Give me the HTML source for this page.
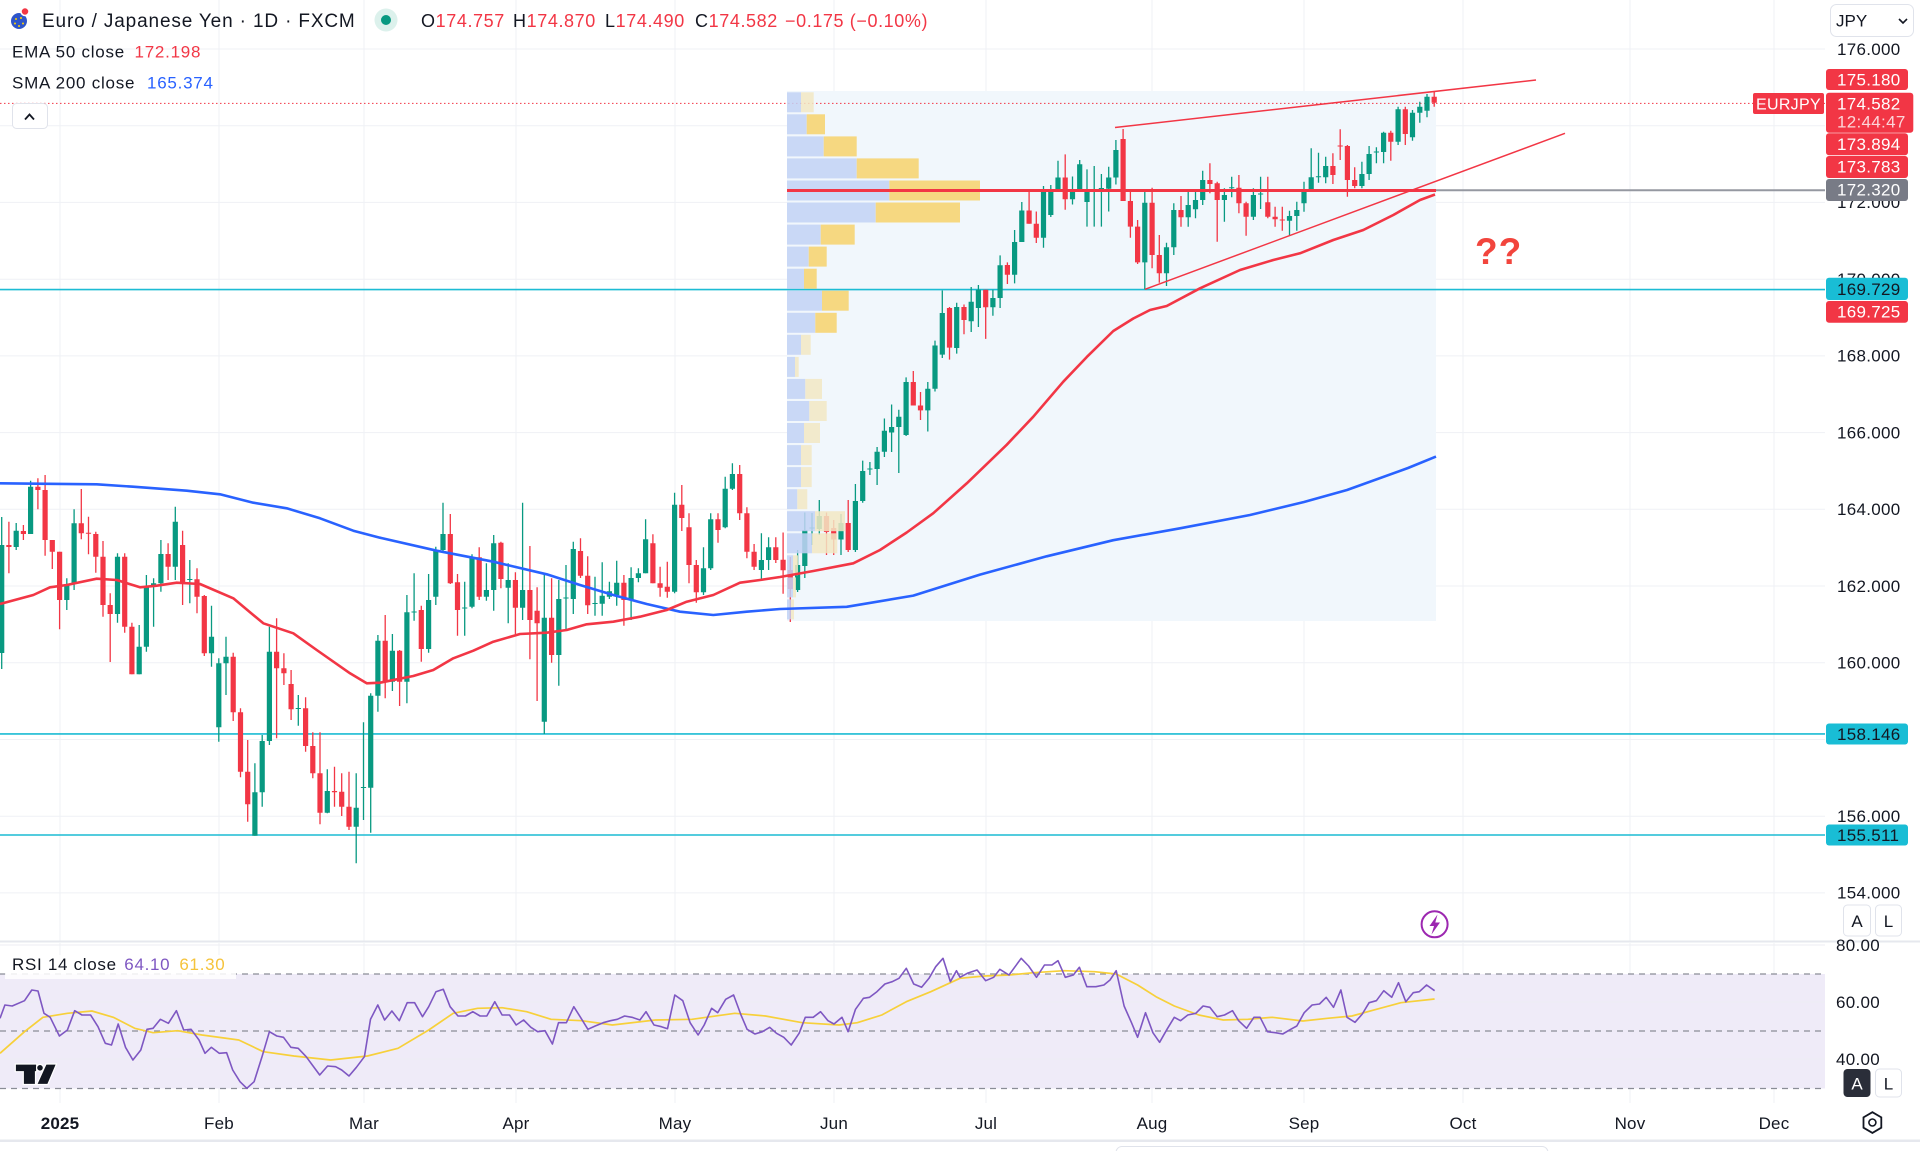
<!DOCTYPE html>
<html><head><meta charset="utf-8"><title>EURJPY 1D chart</title>
<style>
html,body{margin:0;padding:0;background:#fff;}
svg{display:block;}
</style></head>
<body>
<svg width="1920" height="1151" viewBox="0 0 1920 1151" xmlns="http://www.w3.org/2000/svg" font-family="'Liberation Sans', Arial, sans-serif">
<rect x="0" y="0" width="1920" height="1151" fill="#ffffff"/>

<!-- grid -->
<g stroke="#eff1f5" stroke-width="1">
<path d="M0 49H1825M0 125.7H1825M0 202.4H1825M0 279.2H1825M0 355.9H1825M0 432.6H1825M0 509.3H1825M0 586H1825M0 662.8H1825M0 739.5H1825M0 816.2H1825M0 892.9H1825"/>
<path d="M60 0V941M219 0V941M364 0V941M516 0V941M675 0V941M834 0V941M986 0V941M1152 0V941M1304 0V941M1463 0V941M1630 0V941M1774 0V941"/>
<path d="M60 943V1103M219 943V1103M364 943V1103M516 943V1103M675 943V1103M834 943V1103M986 943V1103M1152 943V1103M1304 943V1103M1463 943V1103M1630 943V1103M1774 943V1103"/>
</g>

<!-- volume profile background -->
<rect x="787" y="91" width="649" height="530" fill="#f1f7fc"/>

<!-- cyan horizontal levels -->
<g stroke="#1cbcd4" stroke-width="1.6">
<path d="M0 289.6H1825M0 733.9H1825M0 835H1825"/>
</g>

<!-- current price dotted line -->
<path d="M0 103.4H1825" stroke="#f23645" stroke-width="1" stroke-dasharray="1.5 2.5"/>

<!-- candles green -->
<g stroke="#089981" stroke-width="1.3" fill="none">
<path d="M1.7 517V669M16.2 523V550M30.6 480.7V534M66.8 578.3V610M74.1 509.3V590M117.5 553.3V622.7M139.2 625V674.3M146.4 575V651.7M153.6 578.3V626.7M160.9 540V591.7M175.3 506.7V580M189.8 560V603.3M211.5 605.7V666.7M218.8 658.3V741.7M226 636.7V695M254.9 763.3V835.7M262.2 735V806.7M269.4 626.7V745M298.3 695V725.7M327.3 769.3V813.3M356.2 773.3V863.3M363.5 722.3V820M370.7 693.3V832.7M377.9 635V711.7M392.4 634V691M406.9 595V703.3M414.1 573.3V620.7M428.6 574V652.7M435.8 546.7V605M443 502.7V553M464.7 581.7V635.7M472 554.3V608.3M486.4 563.3V600.7M493.7 535V610.7M508.2 563.3V623.3M522.6 502.7V620M544.3 573.3V734M558.8 580V685.7M566 565V629M573.3 541.7V614M595 576.7V615.7M602.2 562.3V615.7M609.4 581.7V599M616.7 560.7V605.7M631.1 567.3V620M638.4 568.3V582.3M645.6 519.3V573.3M674.6 492.7V593.3M703.5 547.3V595M710.7 513.3V570M725.2 476.7V528.3M732.4 463.3V490M761.4 533.3V580.7M768.6 537.3V570M797.6 550V592M804.8 512.5V578M812 513V545M819.3 500V535M841 514V555M855.4 484V552M862.7 460.6V502.7M869.9 462V475M877.1 447V485M884.4 418.5V457M891.6 404.5V452M898.8 409.7V473M906.1 377.4V436M927.8 382V431.5M935 340.6V391.5M942.3 290.5V358M956.7 302.7V353.6M971.2 287V332M978.4 285V327M992.9 289.8V315.7M1000.1 255.4V308M1014.6 230V283.4M1021.8 202V242M1043.5 186V247.7M1050.8 185V217M1058 160.7V191.5M1072.5 176.5V204.5M1079.7 160V192M1087 169.4V226.6M1094.2 166V226.6M1101.4 174V226.6M1108.7 166.7V211.5M1115.9 140V184.5M1144.8 190V289.3M1166.5 242.7V286M1173.8 203.3V255M1188.2 190V226.7M1195.5 190V218.3M1202.7 170.7V205M1224.4 188.3V221.7M1231.7 176.7V197.3M1253.4 188.3V220M1260.6 176.7V209M1289.5 210.7V235.7M1296.8 201.7V230.7M1304 181.7V211.7M1311.2 148.3V190.7M1318.5 152.7V182.7M1325.7 156.7V183.3M1361.9 161.7V188.3M1369.1 146V180M1376.4 147.3V163.3M1383.6 131.7V163.3M1398.1 106.7V145M1412.5 110V140.7M1419.8 101.7V122.7M1427 94V117.3"/>
</g>
<path fill="#089981" d="M-0.9 545h5.2V653h-5.2zM13.6 530.7h5.2V547h-5.2zM28 486.7h5.2V534h-5.2zM64.2 584h5.2V600h-5.2zM71.5 523.3h5.2V584h-5.2zM114.9 556.7h5.2V614h-5.2zM136.6 646.7h5.2V674.3h-5.2zM143.8 586.7h5.2V646.7h-5.2zM151 583.3h5.2V586.7h-5.2zM158.3 554h5.2V583.3h-5.2zM172.7 521.7h5.2V566.7h-5.2zM187.2 579h5.2V580h-5.2zM208.9 636.7h5.2V653.3h-5.2zM216.2 663.3h5.2V727.3h-5.2zM223.4 656.7h5.2V663.3h-5.2zM252.3 792.3h5.2V835.7h-5.2zM259.6 741h5.2V792.3h-5.2zM266.8 651.7h5.2V741h-5.2zM295.7 708h5.2V709h-5.2zM324.7 791h5.2V812.7h-5.2zM353.6 807.7h5.2V826.7h-5.2zM360.9 787h5.2V788h-5.2zM368.1 695.7h5.2V787.7h-5.2zM375.3 640.7h5.2V695.7h-5.2zM389.8 650.7h5.2V681.7h-5.2zM404.3 612.3h5.2V681.7h-5.2zM411.5 611.5h5.2V612.5h-5.2zM426 600h5.2V649h-5.2zM433.2 550h5.2V596.7h-5.2zM440.4 534h5.2V550h-5.2zM462.1 607.5h5.2V608.5h-5.2zM469.4 557.3h5.2V606.7h-5.2zM483.8 590h5.2V596.7h-5.2zM491.1 543.3h5.2V590h-5.2zM505.6 580h5.2V587.7h-5.2zM520 590h5.2V607.7h-5.2zM541.7 617.7h5.2V721.7h-5.2zM556.2 599h5.2V655h-5.2zM563.4 597.5h5.2V598.5h-5.2zM570.7 549h5.2V599h-5.2zM592.4 603h5.2V604h-5.2zM599.6 595.7h5.2V603.7h-5.2zM606.8 591.3h5.2V596.7h-5.2zM614.1 582.7h5.2V595h-5.2zM628.5 578h5.2V600h-5.2zM635.8 573.3h5.2V578h-5.2zM643 539.3h5.2V573.3h-5.2zM672 504.7h5.2V591.7h-5.2zM700.9 568.3h5.2V592.3h-5.2zM708.1 519.3h5.2V568.3h-5.2zM722.6 488.7h5.2V527.3h-5.2zM729.8 474h5.2V488.7h-5.2zM758.8 560h5.2V570h-5.2zM766 547.3h5.2V560h-5.2zM795 565h5.2V590h-5.2zM802.2 530h5.2V566h-5.2zM809.4 527.5h5.2V528.5h-5.2zM816.7 516h5.2V529h-5.2zM838.4 523h5.2V539.5h-5.2zM852.8 501h5.2V550h-5.2zM860.1 471h5.2V501h-5.2zM867.3 468.5h5.2V469.5h-5.2zM874.5 451.8h5.2V469h-5.2zM881.8 430.7h5.2V451.8h-5.2zM889 427h5.2V432.5h-5.2zM896.2 416.7h5.2V427h-5.2zM903.5 382h5.2V435h-5.2zM925.2 388.7h5.2V410.4h-5.2zM932.4 345.5h5.2V388.7h-5.2zM939.7 313h5.2V354.6h-5.2zM954.1 307h5.2V348h-5.2zM968.6 301.7h5.2V321.3h-5.2zM975.8 289.8h5.2V308h-5.2zM990.3 298h5.2V307.3h-5.2zM997.5 265.2h5.2V298h-5.2zM1012 242h5.2V274.7h-5.2zM1019.2 210.5h5.2V242h-5.2zM1040.9 191.5h5.2V237.8h-5.2zM1048.2 191.5h5.2V215h-5.2zM1055.4 177.5h5.2V190.5h-5.2zM1069.9 191.5h5.2V199.3h-5.2zM1077.1 164.2h5.2V191.5h-5.2zM1084.4 191.5h5.2V202h-5.2zM1091.6 190.5h5.2V191.5h-5.2zM1098.8 188h5.2V189h-5.2zM1106.1 177.5h5.2V188.7h-5.2zM1113.3 150h5.2V177.5h-5.2zM1142.2 202.8h5.2V262.4h-5.2zM1163.9 247.3h5.2V273.3h-5.2zM1171.2 210h5.2V247.3h-5.2zM1185.6 205h5.2V217.3h-5.2zM1192.9 200h5.2V209.3h-5.2zM1200.1 180h5.2V200h-5.2zM1221.8 195h5.2V200h-5.2zM1229.1 187.2h5.2V188.2h-5.2zM1250.8 195h5.2V216.7h-5.2zM1258 193.5h5.2V194.5h-5.2zM1286.9 216h5.2V220.7h-5.2zM1294.2 210h5.2V216h-5.2zM1301.4 189.3h5.2V203.3h-5.2zM1308.6 177.3h5.2V190h-5.2zM1315.9 176.2h5.2V177.2h-5.2zM1323.1 166h5.2V177.3h-5.2zM1359.3 174h5.2V186h-5.2zM1366.5 154h5.2V174h-5.2zM1373.8 151.5h5.2V152.5h-5.2zM1381 132.7h5.2V152h-5.2zM1395.5 109.3h5.2V141.7h-5.2zM1409.9 112.7h5.2V137.3h-5.2zM1417.2 106.7h5.2V112.7h-5.2zM1424.4 96.7h5.2V110.7h-5.2z"/>

<!-- candles red -->
<g stroke="#f23645" stroke-width="1.3" fill="none">
<path d="M8.9 521.7V573.3M23.4 525V540M37.9 478.3V509.3M45.1 475V555.7M52.3 540V569M59.6 551.7V629.3M81.3 489V539.3M88.5 516.7V554.3M95.8 531.7V572.7M103 541V616.7M110.2 593.3V662M124.7 553.3V632.7M131.9 622.7V674.3M168.1 543.3V580M182.6 530.7V605M197 568.3V613.3M204.3 595V656M233.2 652.7V721M240.5 708.3V777.3M247.7 740V821.7M276.6 618.3V738.3M283.9 653.3V685M291.1 670V720M305.6 697.3V751.7M312.8 732.3V778.3M320 732.3V824.3M334.5 766.7V806.7M341.7 773.3V816M349 771.7V830M385.2 615V698.3M399.6 650V706M421.3 605.7V661.7M450.3 514V584M457.5 574V635.7M479.2 547.3V600M500.9 541.7V588.3M515.4 572.3V634M529.9 546V659.3M537.1 587.3V701M551.6 578.3V662.7M580.5 538.3V578M587.7 556.3V614M623.9 575V625.7M652.9 534.3V583.3M660.1 566.7V596.7M667.3 561.7V597.7M681.8 485V531M689 513.3V583.3M696.3 560V602.7M718 513.3V542.7M739.7 465V520M746.9 507.3V558.3M754.1 544V570M775.8 537.3V563M783.1 532.5V593.8M790.3 557V622M826.5 512.5V555M833.7 520V555M848.2 500V552M913.3 371V405.5M920.5 392V420M949.5 307V359.6M964 304.5V334.3M985.7 289.8V338.9M1007.4 262.4V284M1029.1 191.5V223.8M1036.3 211.5V243M1065.2 154.4V209.8M1123.1 129V201M1130.4 191.5V237.8M1137.6 220V264M1152.1 187.7V268.3M1159.3 235V282.7M1181 196V226.7M1209.9 163.3V193.3M1217.2 181.7V241.7M1238.9 175V213.3M1246.1 201.7V235.7M1267.8 176.7V218.3M1275.1 206.7V226.7M1282.3 206.7V230.7M1332.9 153.3V184M1340.2 129.3V160M1347.4 145V196.7M1354.7 167.3V188.3M1390.8 130.7V160.7M1405.3 106.7V145M1434.2 91.7V106.7"/>
</g>
<path fill="#f23645" d="M6.3 545h5.2V547h-5.2zM20.8 531h5.2V534h-5.2zM35.3 486.7h5.2V490h-5.2zM42.5 490h5.2V540h-5.2zM49.7 540h5.2V551.7h-5.2zM57 551.7h5.2V600h-5.2zM78.7 523.3h5.2V533.3h-5.2zM85.9 532.7h5.2V533.7h-5.2zM93.2 534h5.2V556.7h-5.2zM100.4 556.7h5.2V605h-5.2zM107.6 605h5.2V614h-5.2zM122.1 556.7h5.2V626.7h-5.2zM129.3 626.7h5.2V674.3h-5.2zM165.5 554h5.2V566.7h-5.2zM180 545h5.2V583.3h-5.2zM194.4 579.3h5.2V596.7h-5.2zM201.7 596h5.2V653.3h-5.2zM230.6 656.7h5.2V712.3h-5.2zM237.9 712.3h5.2V771.7h-5.2zM245.1 771.7h5.2V804.3h-5.2zM274 651.7h5.2V668.3h-5.2zM281.3 668.3h5.2V673.3h-5.2zM288.5 684h5.2V709.3h-5.2zM303 708.3h5.2V746h-5.2zM310.2 746h5.2V773.3h-5.2zM317.4 773.3h5.2V812.7h-5.2zM331.9 791h5.2V792.3h-5.2zM339.1 791.7h5.2V806.7h-5.2zM346.4 806.7h5.2V826.7h-5.2zM382.6 640.7h5.2V681.7h-5.2zM397 650.7h5.2V681.7h-5.2zM418.7 610h5.2V649h-5.2zM447.7 534h5.2V583.3h-5.2zM454.9 582.3h5.2V610h-5.2zM476.6 557.3h5.2V596.7h-5.2zM498.3 542.7h5.2V579h-5.2zM512.8 580h5.2V607.7h-5.2zM527.3 590h5.2V620h-5.2zM534.5 610.7h5.2V623.3h-5.2zM549 617.7h5.2V655h-5.2zM577.9 551h5.2V575.7h-5.2zM585.1 575.7h5.2V605.3h-5.2zM621.3 582.7h5.2V600h-5.2zM650.3 543.3h5.2V583.3h-5.2zM657.5 583.3h5.2V587.7h-5.2zM664.7 586.7h5.2V591.7h-5.2zM679.2 504.7h5.2V518h-5.2zM686.4 527.3h5.2V565h-5.2zM693.7 565h5.2V592.3h-5.2zM715.4 519.3h5.2V530h-5.2zM737.1 474h5.2V513.3h-5.2zM744.3 513.3h5.2V551.7h-5.2zM751.5 551.7h5.2V566.7h-5.2zM773.2 547.3h5.2V560h-5.2zM780.5 559.8h5.2V570.3h-5.2zM787.7 570h5.2V589h-5.2zM823.9 516h5.2V532h-5.2zM831.1 528h5.2V539.5h-5.2zM845.6 523h5.2V550h-5.2zM910.7 382h5.2V405.5h-5.2zM917.9 405.5h5.2V410.4h-5.2zM946.9 308h5.2V347.6h-5.2zM961.4 307h5.2V320h-5.2zM983.1 289.8h5.2V307.3h-5.2zM1004.8 265h5.2V274.7h-5.2zM1026.5 210.5h5.2V223.8h-5.2zM1033.7 223.8h5.2V237.8h-5.2zM1062.6 177.5h5.2V199.3h-5.2zM1120.5 139h5.2V201h-5.2zM1127.8 201h5.2V226.6h-5.2zM1135 226.6h5.2V262.4h-5.2zM1149.5 202.8h5.2V255h-5.2zM1156.7 255h5.2V273.3h-5.2zM1178.4 210h5.2V217.3h-5.2zM1207.3 180h5.2V184h-5.2zM1214.6 183.3h5.2V200h-5.2zM1236.3 187.7h5.2V203.3h-5.2zM1243.5 203.3h5.2V216.7h-5.2zM1265.2 202.3h5.2V216.7h-5.2zM1272.5 216.7h5.2V219.3h-5.2zM1279.7 219.5h5.2V220.5h-5.2zM1330.3 166h5.2V175h-5.2zM1337.6 145.5h5.2V146.5h-5.2zM1344.8 146h5.2V180h-5.2zM1352.1 180h5.2V186h-5.2zM1388.2 132.7h5.2V141.7h-5.2zM1402.7 109.3h5.2V134h-5.2zM1431.6 96.7h5.2V102.7h-5.2z"/>

<!-- volume profile bars -->
<g opacity="0.85">
<g fill="#c3d3f6">
<rect x="787" y="92.3" width="14" height="20"/>
<rect x="787" y="114.3" width="19.7" height="20"/>
<rect x="787" y="136.4" width="36.7" height="20"/>
<rect x="787" y="158.4" width="69.7" height="20"/>
<rect x="787" y="180.5" width="102.3" height="20"/>
<rect x="787" y="202.5" width="88.7" height="20"/>
<rect x="787" y="224.6" width="33.7" height="20"/>
<rect x="787" y="246.6" width="21.7" height="20"/>
<rect x="787" y="268.7" width="17" height="20"/>
<rect x="787" y="290.7" width="35" height="20"/>
<rect x="787" y="312.8" width="28.3" height="20"/>
<rect x="787" y="334.8" width="14" height="20"/>
<rect x="787" y="356.9" width="8" height="20"/>
<rect x="787" y="378.9" width="18.3" height="20"/>
<rect x="787" y="401" width="22.3" height="20"/>
<rect x="787" y="423" width="17" height="20"/>
<rect x="787" y="445.1" width="14" height="20"/>
<rect x="787" y="467.1" width="14" height="20"/>
<rect x="787" y="489.2" width="10.3" height="20"/>
<rect x="787" y="511.2" width="28" height="20"/>
<rect x="787" y="533.3" width="25" height="20"/>
<rect x="787" y="555.3" width="6" height="20"/>
<rect x="787" y="577.4" width="6" height="20"/>
<rect x="787" y="599.4" width="4" height="20"/>
</g>
<g fill="#f8d36c">
<rect x="806.7" y="114.3" width="18.3" height="20"/>
<rect x="823.7" y="136.4" width="33" height="20"/>
<rect x="856.7" y="158.4" width="62" height="20"/>
<rect x="889.3" y="180.5" width="90.7" height="20"/>
<rect x="875.7" y="202.5" width="84.3" height="20"/>
<rect x="820.7" y="224.6" width="34" height="20"/>
<rect x="808.7" y="246.6" width="18" height="20"/>
<rect x="804" y="268.7" width="12.7" height="20"/>
<rect x="822" y="290.7" width="26.7" height="20"/>
<rect x="815.3" y="312.8" width="21.4" height="20"/>
</g>
<g fill="#f3e8c4">
<rect x="801" y="92.3" width="12.7" height="20"/>
<rect x="801" y="334.8" width="9.7" height="20"/>
<rect x="795" y="356.9" width="3.7" height="20"/>
<rect x="805.3" y="378.9" width="16.7" height="20"/>
<rect x="809.3" y="401" width="17.4" height="20"/>
<rect x="804" y="423" width="16" height="20"/>
<rect x="801" y="445.1" width="10.7" height="20"/>
<rect x="801" y="467.1" width="10.7" height="20"/>
<rect x="797.3" y="489.2" width="10" height="20"/>
<rect x="815" y="511.2" width="30" height="20"/>
<rect x="812" y="533.3" width="25.3" height="20"/>
<rect x="793" y="555.3" width="5" height="20"/>
<rect x="793" y="577.4" width="3" height="20"/>
<rect x="791" y="599.4" width="3" height="20"/>
</g>
</g>

<!-- POC red line and level grey line -->
<path d="M787 190.5H1436" stroke="#f23645" stroke-width="3"/>
<path d="M1436 190.3H1825" stroke="#9598a1" stroke-width="2"/>

<!-- SMA 200 -->
<polyline fill="none" stroke="#2962ff" stroke-width="2.6" stroke-linejoin="round" points="0,483.3 96.7,484.3 133,486.7 186.7,490.7 220,494.3 253.3,502.7 286.7,508.3 320,518.3 353.3,530.7 380,537.7 436.7,550.7 493.3,561.7 546.7,574.3 580,585 613.3,595 646.7,604 680,611.7 713.3,615 746.7,611.7 780,609 846.7,606.8 913.3,595.6 980,574.6 1046.7,556.3 1113.3,540.2 1180,528.3 1250,515 1304,502 1347,490 1408,468 1436,456.6"/>
<!-- EMA 50 -->
<polyline fill="none" stroke="#f23645" stroke-width="2.6" stroke-linejoin="round" points="0,604 33.3,595 50,587.3 66.7,585 96.7,578.7 116.7,580 140,587.3 156.7,585.7 176.7,582.7 200,584 233.3,598.3 263.3,623.3 293.3,633.3 316.7,650 350,673.3 366.7,683.3 380,682.7 413.3,676 433.3,670 453.3,658.3 473.3,650.7 493.3,641.7 520,634 546.7,632.7 566.7,630 586.7,624.3 613.3,621.7 640,616.7 666.7,610 686.7,601.7 713.3,595 740,582.7 760,580 780,577 813.3,571 853.3,563.3 880,550 906.7,532.5 933.3,513.2 966.7,483.4 1006.7,444.8 1033.3,416.7 1063.3,381.7 1086.7,357.1 1113.3,331 1133.3,318.5 1150,310 1166.7,306 1200,288.3 1240,270 1273.3,260 1300,253.3 1333.3,240 1363.3,230 1393.3,215 1420,200 1435,194.5"/>

<!-- trendlines -->
<path d="M1115 127.5L1536 80" stroke="#f23645" stroke-width="1.5"/>
<path d="M1145 289.3L1565 133.3" stroke="#f23645" stroke-width="1.5"/>

<!-- ?? -->
<text x="1475" y="264" font-size="37" font-weight="bold" fill="#f2453d" letter-spacing="1">??</text>

<!-- Legend top -->
<circle cx="19" cy="21" r="8" fill="#2e55c9"/>
<circle cx="16" cy="19" r="1" fill="#ffd200"/><circle cx="21" cy="18" r="1" fill="#ffd200"/><circle cx="15" cy="23.5" r="1" fill="#ffd200"/><circle cx="19" cy="26" r="1" fill="#ffd200"/><circle cx="23" cy="23.5" r="1" fill="#ffd200"/>
<circle cx="25" cy="11.5" r="4" fill="#f23645" stroke="#ffffff" stroke-width="1.5"/>
<text x="42" y="27" font-size="19" letter-spacing="0.85" fill="#131722">Euro / Japanese Yen · 1D · FXCM</text>
<circle cx="386" cy="20" r="11.5" fill="#dcf1ec"/>
<circle cx="386" cy="20" r="5" fill="#089981"/>
<g font-size="18" letter-spacing="0.6">
<text x="421" y="27"><tspan fill="#131722">O</tspan><tspan fill="#f23645">174.757</tspan></text>
<text x="513" y="27"><tspan fill="#131722">H</tspan><tspan fill="#f23645">174.870</tspan></text>
<text x="605" y="27"><tspan fill="#131722">L</tspan><tspan fill="#f23645">174.490</tspan></text>
<text x="695" y="27"><tspan fill="#131722">C</tspan><tspan fill="#f23645">174.582</tspan></text>
<text x="785" y="27" fill="#f23645">−0.175 (−0.10%)</text>
</g>
<g font-size="17" letter-spacing="0.75">
<text x="12" y="57.5" fill="#131722">EMA 50 close</text>
<text x="134.5" y="57.5" fill="#f23645">172.198</text>
<text x="12" y="88.5" fill="#131722">SMA 200 close</text>
<text x="147" y="88.5" fill="#2962ff">165.374</text>
</g>
<rect x="12.5" y="103.5" width="35" height="25" rx="4" fill="#ffffff" stroke="#e0e3eb"/>
<path d="M25 119.5L29.5 114.5L34 119.5" fill="none" stroke="#131722" stroke-width="1.8"/>

<!-- EURJPY label -->
<rect x="1753" y="93" width="71" height="21" rx="2" fill="#f23645"/>
<text x="1756" y="109.3" font-size="16" fill="#ffffff" letter-spacing="0.3">EURJPY</text>

<!-- price axis -->
<g font-size="17" letter-spacing="0.3" fill="#131722">
<text x="1837" y="54.8">176.000</text>
<text x="1837" y="131.5">174.000</text>
<text x="1837" y="208.2">172.000</text>
<text x="1837" y="285">170.000</text>
<text x="1837" y="361.7">168.000</text>
<text x="1837" y="438.4">166.000</text>
<text x="1837" y="515.1">164.000</text>
<text x="1837" y="591.8">162.000</text>
<text x="1837" y="668.6">160.000</text>
<text x="1837" y="822">156.000</text>
<text x="1837" y="898.7">154.000</text>
</g>
<rect x="1830.5" y="4.5" width="83" height="32" rx="6" fill="#ffffff" stroke="#e0e3eb"/>
<text x="1836" y="26.5" font-size="17" fill="#131722">JPY</text>
<path d="M1899 19l4 4l4 -4" fill="none" stroke="#131722" stroke-width="1.6"/>

<g font-size="17" letter-spacing="0.3">
<rect x="1826" y="69" width="82" height="21" rx="3" fill="#f23645"/>
<text x="1837" y="85.7" fill="#ffffff">175.180</text>
<rect x="1826" y="92.7" width="87.3" height="40" rx="3" fill="#f23645"/>
<text x="1837" y="109.3" fill="#ffffff">174.582</text>
<text x="1837" y="127.7" fill="#fcd5d8">12:44:47</text>
<rect x="1826" y="133.3" width="82" height="22" rx="3" fill="#f23645"/>
<text x="1837" y="150" fill="#ffffff">173.894</text>
<rect x="1826" y="156" width="82" height="22" rx="3" fill="#f23645"/>
<text x="1837" y="172.3" fill="#ffffff">173.783</text>
<rect x="1826" y="179" width="82" height="22" rx="3" fill="#787b86"/>
<text x="1837" y="195.5" fill="#ffffff">172.320</text>
<rect x="1826" y="277.7" width="82" height="22.3" rx="3" fill="#19bdd5"/>
<text x="1837" y="295" fill="#131722">169.729</text>
<rect x="1826" y="301" width="82" height="21.7" rx="3" fill="#f23645"/>
<text x="1837" y="317.3" fill="#ffffff">169.725</text>
<rect x="1826" y="723.5" width="82" height="21" rx="3" fill="#19bdd5"/>
<text x="1837" y="740" fill="#131722">158.146</text>
<rect x="1826" y="824.5" width="82" height="21" rx="3" fill="#19bdd5"/>
<text x="1837" y="841" fill="#131722">155.511</text>
</g>

<!-- A / L buttons main -->
<rect x="1843.5" y="905" width="27" height="31" rx="4" fill="#ffffff" stroke="#e0e3eb"/>
<text x="1857" y="927" font-size="17" text-anchor="middle" fill="#131722">A</text>
<rect x="1875.5" y="905" width="26" height="31" rx="4" fill="#ffffff" stroke="#e0e3eb"/>
<text x="1888.5" y="927" font-size="17" text-anchor="middle" fill="#131722">L</text>

<!-- lightning icon -->
<circle cx="1434.6" cy="924.3" r="13" fill="#ffffff" stroke="#9c27b0" stroke-width="2"/>
<path d="M1437.5 914.5L1429.5 926L1434 926L1431.5 934.5L1440 922.5L1435.3 922.5Z" fill="#9c27b0"/>

<!-- pane separator -->
<rect x="0" y="940.5" width="1920" height="2" fill="#e6e8ee"/>

<!-- RSI pane -->
<rect x="0" y="974" width="1825" height="114.5" fill="#efebf8"/>
<g stroke="#eceef3" stroke-width="1">
<path d="M0 945H1825M0 1002H1825M0 1059H1825"/>
</g>
<g stroke="#8a8d96" stroke-width="1.3" stroke-dasharray="6 5">
<path d="M0 974H1825M0 1031H1825M0 1088.5H1825"/>
</g>
<polyline fill="none" stroke="#f7d03a" stroke-width="1.7" stroke-linejoin="round" points="0,1053.3 24.5,1031.7 42.9,1017.3 67.4,1013.3 91.9,1011 113.3,1017.3 134.7,1028.3 153.1,1032.7 177.6,1030.7 202,1035 238.8,1040 263.3,1051.7 293.9,1056 330.7,1060 367.4,1056 398,1048.3 428.7,1030 453.2,1013.3 477.6,1008.3 502.1,1007.7 526.6,1011.7 551.1,1019.3 581.7,1020.7 612.4,1025 655.2,1020 692,1019.3 734.8,1013.3 765.5,1016 802.2,1022.7 839,1025 857.3,1022.7 881.8,1015 906.3,1001.7 930.8,991.7 960,978.3 984.5,976 1009,975 1033.5,972.7 1064.1,970.7 1094.7,971.7 1116.2,974 1137.6,985 1156,996.7 1174.3,1006 1198.8,1015 1223.3,1020 1247.8,1019.3 1272.3,1017.3 1302.9,1021 1327.4,1018.3 1351.9,1016 1376.4,1009.3 1400.9,1002.7 1434.6,999"/>
<polyline fill="none" stroke="#7e57c2" stroke-width="1.6" stroke-linejoin="round" points="0,1018.3 4.9,1005 12.2,1006 24.5,1000.7 31.8,990 38,991 44,1013.3 50.2,1017.3 59.4,1036 67.4,1030 74.7,1010.7 82,1015 90.6,1015 98,1026.7 105.3,1043.3 111.5,1045 118.2,1024 125.5,1047.3 132.9,1060 140.8,1050 147,1029.3 153.1,1028.3 160.4,1019.3 168.4,1023.3 176.4,1010.7 183.7,1030 191.1,1029.3 199,1040 205,1053.3 211.3,1047.3 219.2,1053.3 226.6,1052.7 232.7,1070 240,1081.7 246.8,1088.3 254.1,1081.7 262,1056.7 269.4,1031.7 276.8,1036 283.5,1037.3 290.9,1047.3 298.2,1048.3 306.2,1056.7 312.3,1065 319.7,1075 327.6,1066 335.6,1066.7 341.7,1070 349,1076 356.4,1067.3 364.4,1056.7 370.5,1019.3 377.8,1005 384.6,1020 391.9,1011 399.3,1020.7 407.2,1002.7 414.6,1002.7 422.5,1016.7 428.7,1006.7 436,991.7 443.3,989.3 450.1,1006.7 458,1016 465.4,1016 472.8,1011.7 480.1,1016 486.8,1016 494.8,1001.7 502.1,1015 509.5,1015 516.2,1025 523.6,1020 530.9,1027.3 537.7,1031.7 545,1030.7 552.4,1044 558.5,1022.7 566.4,1022.7 573.8,1006.7 580.5,1017.3 587.9,1029.3 595.2,1026 603.2,1022.7 610.5,1020.7 617.3,1019.3 624.6,1016 632,1017.3 639.9,1020 646,1011.7 654,1025 661.4,1026.7 667.5,1028.7 674.8,995 682.8,1000.7 690.1,1022.7 698.1,1035 704.2,1025 711.6,1008.3 717.7,1012.7 725.7,999.3 733.6,995 741,1015 747.1,1029.3 755,1034 762.4,1031.7 769.7,1027.3 776.5,1033.3 783.8,1037.3 791.2,1045 799.1,1033.3 805.3,1017.3 813.2,1017.3 820.6,1011.7 828,1020.7 834,1024 842,1017.3 848.1,1031.7 855.5,1009.3 863.4,998.3 869.6,997.3 876.9,991.7 884.9,984 892.2,981.7 899,978.3 906.3,968.3 913.7,984 921.6,987.3 929,978.3 935.7,966.7 943,958.3 950.4,981.7 956.5,970.7 960,977.3 967.3,973.3 977.1,970 985.7,980.7 993.7,977.3 999.8,969.3 1009,975 1021.2,958.3 1028.6,966 1036.5,977.3 1044.5,965 1051.9,965 1058,960.7 1065.3,977.3 1073.3,975 1079.4,967.3 1086.8,986.7 1095.9,986.7 1103.9,985 1110,980 1116.2,970.7 1124.1,1006 1131.5,1022.7 1137.6,1037.3 1145.5,1012.7 1152.9,1032.7 1159.6,1042.3 1167,1029.3 1174.3,1017.3 1180.5,1020.7 1187.8,1015 1195.8,1013.3 1203.1,1006 1209.8,1007.3 1217.2,1016.7 1224.5,1015 1232.5,1010.7 1238.6,1020.7 1246.6,1028.3 1253.9,1017.3 1260.1,1017.3 1267.4,1031.7 1275.4,1032.7 1282.7,1034 1290.7,1029.3 1296.8,1026 1304.2,1012.7 1312.1,1005 1319.5,1004 1326.2,997.3 1333.5,1007.3 1340.9,990 1347,1017.3 1355,1022.3 1362.3,1014 1369.1,1002.7 1376.4,1000.7 1383.8,990.7 1391.7,997.3 1398.5,982.7 1405.8,1001.7 1413.2,992.7 1419.3,991.7 1426.6,985 1434.6,990.7"/>

<!-- RSI legend -->
<rect x="5" y="955" width="231" height="24" fill="#ffffff" opacity="0.85"/>
<g font-size="17" letter-spacing="0.7">
<text x="12" y="970" fill="#131722">RSI 14 close</text>
<text x="124.3" y="970" fill="#7e57c2">64.10</text>
<text x="179.4" y="970" fill="#f5c33b">61.30</text>
</g>

<!-- TradingView logo -->
<g fill="#131722" stroke="#ffffff" stroke-width="1.2">
<path d="M15.3 1064H36.7V1071.7H35.5V1084.5H23.3V1071.7H15.3Z"/>
<circle cx="40" cy="1067.8" r="3.4"/>
<path d="M46 1064H56.5L47.8 1084.5H36.7Z"/>
</g>

<!-- RSI axis -->
<g font-size="17" letter-spacing="0.3" fill="#131722">
<text x="1836" y="950.8">80.00</text>
<text x="1836" y="1007.8">60.00</text>
<text x="1836" y="1064.8">40.00</text>
</g>
<rect x="1843.5" y="1069" width="27" height="28" rx="4" fill="#2a2e39"/>
<text x="1857" y="1089.5" font-size="17" text-anchor="middle" fill="#ffffff">A</text>
<rect x="1875.5" y="1069" width="26" height="28" rx="4" fill="#ffffff" stroke="#e0e3eb"/>
<text x="1888.5" y="1089.5" font-size="17" text-anchor="middle" fill="#131722">L</text>

<!-- time axis -->
<g font-size="17" fill="#131722" text-anchor="middle" letter-spacing="0.2">
<text x="60" y="1129" font-weight="bold">2025</text>
<text x="219" y="1129">Feb</text>
<text x="364" y="1129">Mar</text>
<text x="516" y="1129">Apr</text>
<text x="675" y="1129">May</text>
<text x="834" y="1129">Jun</text>
<text x="986" y="1129">Jul</text>
<text x="1152" y="1129">Aug</text>
<text x="1304" y="1129">Sep</text>
<text x="1463" y="1129">Oct</text>
<text x="1630" y="1129">Nov</text>
<text x="1774" y="1129">Dec</text>
</g>
<!-- settings icon -->
<polygon points="1872.4,1112.2 1881.3,1117.4 1881.3,1127.7 1872.4,1132.9 1863.5,1127.7 1863.5,1117.4" fill="none" stroke="#131722" stroke-width="1.8"/>
<circle cx="1872.4" cy="1122.5" r="3.5" fill="none" stroke="#131722" stroke-width="1.6"/>

<!-- bottom border -->
<rect x="0" y="1139.5" width="1920" height="2.5" fill="#e6e8ee"/>
<rect x="1116" y="1146.5" width="432" height="12" rx="6" fill="#ffffff" stroke="#e0e3eb"/>
</svg>
</body></html>
